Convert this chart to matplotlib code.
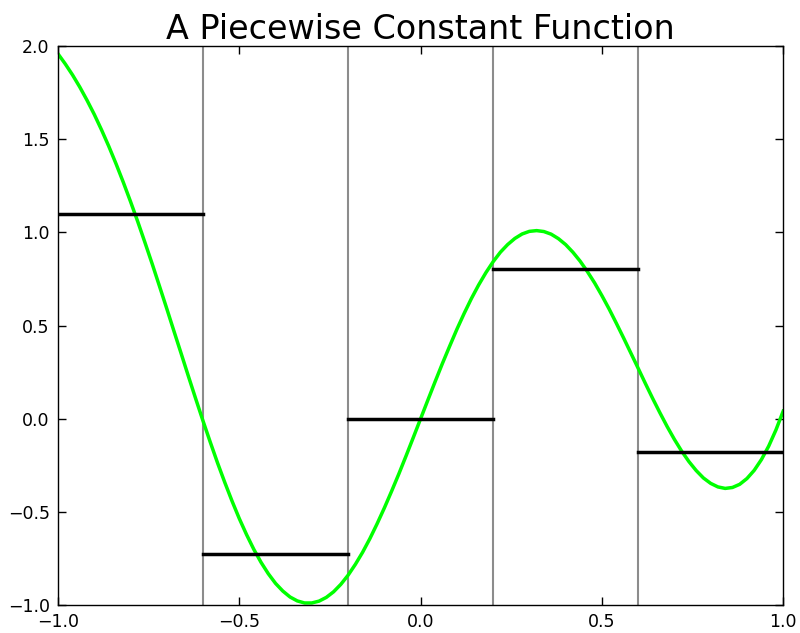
import matplotlib
matplotlib.use("Agg")
import matplotlib.pyplot as plt

# curve samples (x step 0.02)
curve_x = [round(-1 + 0.02 * i, 2) for i in range(101)]
curve_y = [1.959, 1.905, 1.846, 1.781, 1.710, 1.634, 1.551, 1.463, 1.369, 1.270,
           1.166, 1.058, 0.945, 0.830, 0.711, 0.591, 0.469, 0.348, 0.226, 0.106,
           -0.012, -0.126, -0.237, -0.342, -0.442, -0.536, -0.622, -0.701, -0.771, -0.832,
           -0.884, -0.925, -0.957, -0.978, -0.989, -0.989, -0.979, -0.959, -0.929, -0.889,
           -0.840, -0.782, -0.717, -0.644, -0.564, -0.479, -0.389, -0.296, -0.199, -0.100,
           0.000,
           0.100, 0.199, 0.296, 0.389, 0.480, 0.565, 0.645, 0.718, 0.784, 0.843,
           0.894, 0.935, 0.968, 0.992, 1.006, 1.010, 1.005, 0.991, 0.967, 0.935,
           0.894, 0.846, 0.790, 0.729, 0.661, 0.589, 0.512, 0.433, 0.352, 0.271,
           0.189, 0.109, 0.032, -0.042, -0.111, -0.174, -0.230, -0.278, -0.318, -0.347,
           -0.366, -0.374, -0.369, -0.352, -0.321, -0.277, -0.219, -0.147, -0.060, 0.041]

# piecewise constant pieces
edges = [-1.0, -0.6, -0.2, 0.2, 0.6, 1.0]
step_values = [1.098, -0.726, 0.000, 0.804, -0.176]

xticks = [-1.0, -0.5, 0.0, 0.5, 1.0]
yticks = [-1.0, -0.5, 0.0, 0.5, 1.0, 1.5, 2.0]

fig = plt.figure(figsize=(8.0, 6.33), dpi=100)
ax = fig.add_axes([0.0725, 0.0442, 0.9065, 0.8828])

for e in edges[1:-1]:
    ax.axvline(e, color='#8c8c8c', lw=1.5, zorder=1)

ax.plot(curve_x, curve_y, color='#00ff00', lw=2.5, zorder=2)

for i, v in enumerate(step_values):
    ax.plot([edges[i], edges[i + 1]], [v, v], color='black', lw=2.5, zorder=3)

ax.set_xlim(-1, 1)
ax.set_ylim(-1, 2)
ax.set_xticks(xticks)
ax.set_yticks(yticks)
ax.set_xticklabels([f"{t:.1f}".replace('-', '\u2212') for t in xticks])
ax.set_yticklabels([f"{t:.1f}".replace('-', '\u2212') for t in yticks])
ax.tick_params(direction='in', top=True, right=True, length=6, width=1, labelsize=12.5, pad=6)
for s in ax.spines.values():
    s.set_linewidth(1.0)
ax.set_title("A Piecewise Constant Function", fontsize=24, pad=5)

fig.savefig("out.png", dpi=100)
